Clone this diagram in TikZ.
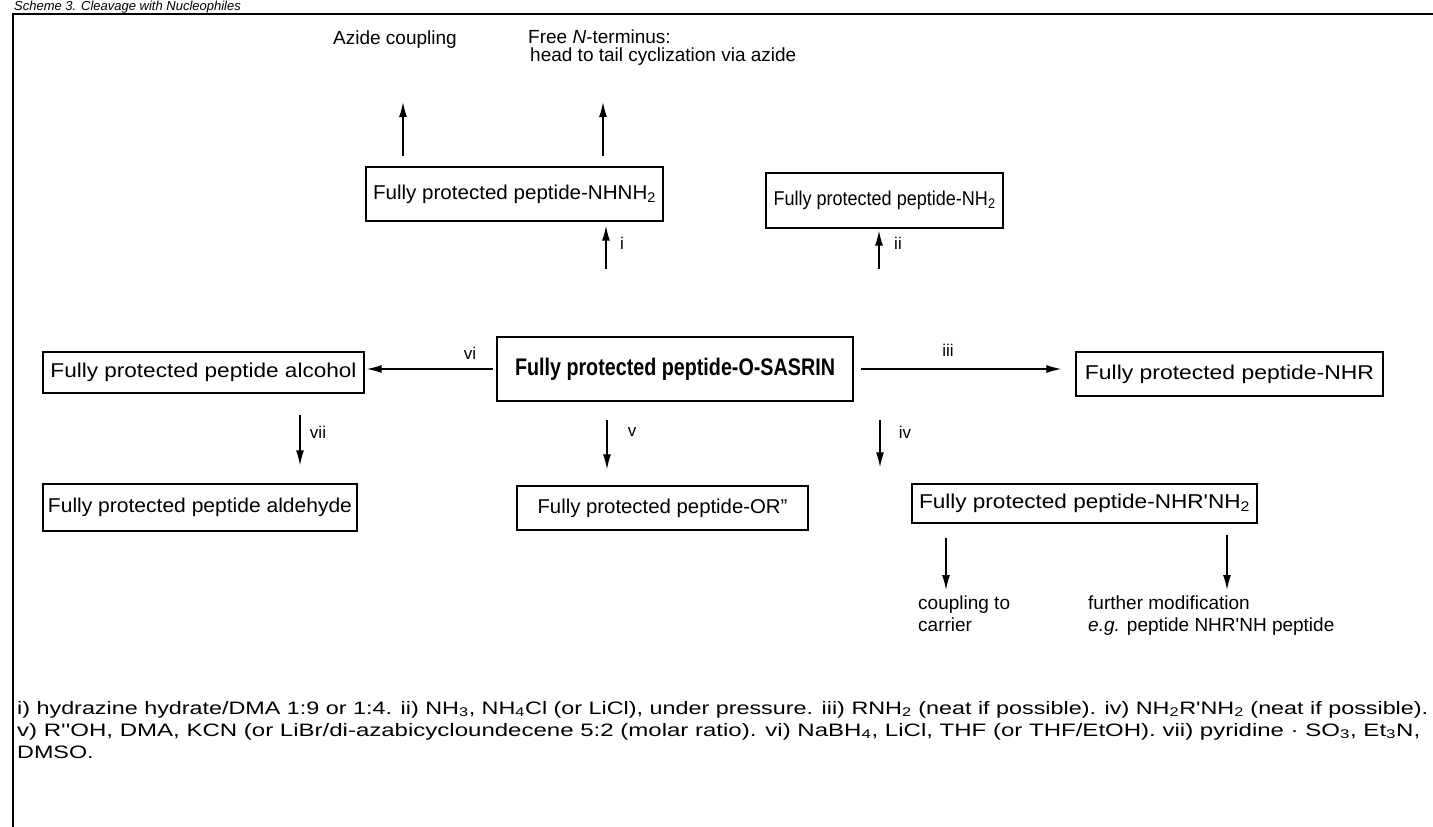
\documentclass[tikz,border=0pt]{standalone}
\usepackage{fontspec}
\setmainfont{Liberation Sans}
\usetikzlibrary{arrows.meta}
\newcommand\fitw[2]{\resizebox{#1}{\height}{#2}}
\newcommand\sq{\textquotesingle}
\newcommand\footA{i) hydrazine hydrate/DMA 1:9 or 1:4. ii) NH\textsubscript{3}, NH\textsubscript{4}Cl (or LiCl), under pressure. iii) RNH\textsubscript{2} (neat if possible). iv) NH\textsubscript{2}R\sq NH\textsubscript{2} (neat if possible).}
\newcommand\footB{v) R\sq\sq OH, DMA, KCN (or LiBr/di-azabicycloundecene 5:2 (molar ratio). vi) NaBH\textsubscript{4}, LiCl, THF (or THF/EtOH). vii) pyridine · SO\textsubscript{3}, Et\textsubscript{3}N,}
\newlength\footLen
\begin{document}
\settowidth\footLen{\fontsize{18}{22}\selectfont\footA}%
\pgfmathsetmacro\fscale{1411/\footLen}%
\begin{tikzpicture}[x=1pt,y=-1pt,
  box/.style={draw, line width=1.3pt, inner sep=0pt, font=\fontsize{20}{24}\selectfont},
  mainbox/.style={draw, line width=1.8pt, inner sep=0pt, font=\fontsize{24}{28}\selectfont\bfseries},
  lab/.style={inner sep=0pt, font=\fontsize{17}{20}\selectfont},
  txt/.style={inner sep=0pt, anchor=base west, font=\fontsize{19}{22}\selectfont},
  foot/.style={inner sep=0pt, anchor=base west, font=\fontsize{18}{22}\selectfont},
  arr/.style={line width=1.4pt, -{Latex[length=15pt,width=8pt]}},
  frame/.style={line width=1.4pt}]
\useasboundingbox (0,0) rectangle (1433,827);
\fill[white] (0,0) rectangle (1433,827);
% title and frame
\node[txt, font=\fontsize{13}{16}\selectfont\itshape] (title) at (14,10.5) {Scheme 3. Cleavage with Nucleophiles};
\draw[frame] (1450,14) -- (13,14) -- (13,850);
% boxes
\node[box, minimum width=297pt, minimum height=54pt] (nhnh2) at (514.5,194) {\fitw{283pt}{Fully protected peptide-NHNH\textsubscript{2}}};
\node[box, minimum width=237pt, minimum height=55pt] (nh2) at (884.5,200.5) {\fitw{222pt}{Fully protected peptide-NH\textsubscript{2}}};
\node[mainbox, minimum width=356pt, minimum height=64pt] (main) at (675,369) {\fitw{320pt}{Fully protected peptide-O-SASRIN}};
\node[box, minimum width=321pt, minimum height=41pt] (alc) at (203.5,372.5) {\fitw{306pt}{Fully protected peptide alcohol}};
\node[box, minimum width=307pt, minimum height=44pt] (nhr) at (1229.5,374) {\fitw{289pt}{Fully protected peptide-NHR}};
\node[box, minimum width=314pt, minimum height=47pt] (ald) at (200,507.5) {\fitw{304pt}{Fully protected peptide aldehyde}};
\node[box, minimum width=291pt, minimum height=44pt] (orr) at (662.5,508) {\fitw{250pt}{Fully protected peptide-OR\symbol{34}}};
\node[box, minimum width=345pt, minimum height=39pt] (nhrnh) at (1084.5,503.5) {\fitw{331pt}{Fully protected peptide-NHR\sq NH\textsubscript{2}}};
% top texts
\node[txt] (azc) at (333,44) {Azide coupling};
\node[txt] (free1) at (528,43) {Free \textit{N}-terminus:};
\node[txt] (free2) at (530,61) {head to tail cyclization via azide};
% bottom texts
\node[txt] (cp1) at (918,609) {coupling to};
\node[txt] (cp2) at (918,631) {carrier};
\node[txt] (fm1) at (1088,609) {further modification};
\node[txt] (fm2) at (1088,631) {\textit{e.g.} peptide NHR\sq NH peptide};
% arrow x positions and free ends
\coordinate (xi) at (606,0);
\coordinate (xii) at (879,0);
\coordinate (xvii) at (300,0);
\coordinate (xv) at (607,0);
\coordinate (xiv) at (880,0);
\coordinate (azT) at (403,102);
\coordinate (frT) at (603,102);
\coordinate (cpB) at (946,590);
\coordinate (fmB) at (1227,590);
% arrows
\draw[arr, shorten <=10pt] (nhnh2.north -| azT) -- (azT);
\draw[arr, shorten <=10pt] (nhnh2.north -| frT) -- (frT);
\draw[arr, shorten <=67pt, shorten >=4pt] (main.north -| xi) -- (nhnh2.south -| xi);
\draw[arr, shorten <=67pt, shorten >=2pt] (main.north -| xii) -- (nh2.south -| xii);
\draw[arr, shorten <=3pt, shorten >=2pt] (main.west) -- (alc.east |- main.west);
\draw[arr, shorten <=7pt, shorten >=14pt] (main.east) -- (nhr.west |- main.east);
\draw[arr, shorten <=21pt, shorten >=18pt] (alc.south -| xvii) -- (ald.north -| xvii);
\draw[arr, shorten <=18pt, shorten >=16pt] (main.south -| xv) -- (orr.north -| xv);
\draw[arr, shorten <=18pt, shorten >=16pt] (main.south -| xiv) -- (nhrnh.north -| xiv);
\draw[arr, shorten <=14pt] (nhrnh.south -| cpB) -- (cpB);
\draw[arr, shorten <=11pt] (nhrnh.south -| fmB) -- (fmB);
% arrow labels
\node[lab] (li) at (622,243) {i};
\node[lab] (lii) at (898,243) {ii};
\node[lab] (lvi) at (470,353) {vi};
\node[lab] (liii) at (948,350) {iii};
\node[lab] (lvii) at (318,432) {vii};
\node[lab] (lv) at (632,432) {v};
\node[lab] (liv) at (905,432) {iv};
% footnote
\node[foot] (f1) at (17,714) {\scalebox{\fscale}[1]{\footA}};
\node[foot] (f2) at (17,736) {\fitw{1403pt}{\footB}};
\node[foot] (f3) at (17,758) {\scalebox{\fscale}[1]{DMSO.}};
\end{tikzpicture}
\end{document}
